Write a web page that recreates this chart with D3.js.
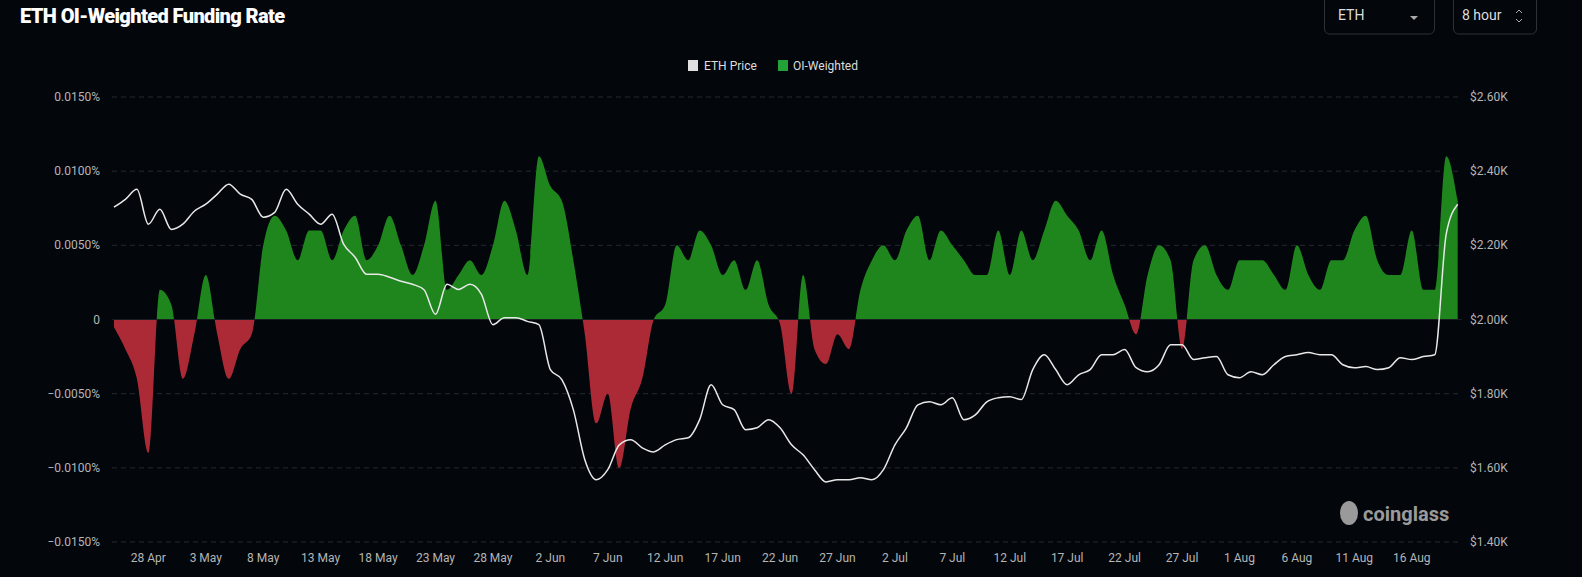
<!DOCTYPE html>
<html><head><meta charset="utf-8">
<script src="https://cdn.jsdelivr.net/npm/d3@7"></script>
<style>
body{margin:0;background:#03060b;font-family:Roboto,"Noto Sans",sans-serif;}
</style></head>
<body><svg id="chart" width="1582" height="577"></svg>
<script>
// daily values, 25 Apr -> 20 Aug 2023
const startDate = new Date(2023, 3, 25);
const fundingRate = [
  -0.0005,-0.002,-0.004,-0.009,0.002,0.001,-0.004,-0.001,0.003,-0.001,
  -0.004,-0.002,-0.001,0.005,0.007,0.006,0.004,0.006,0.006,0.004,
  0.006,0.007,0.004,0.005,0.007,0.005,0.003,0.005,0.008,0.002,
  0.003,0.004,0.003,0.005,0.008,0.006,0.003,0.011,0.009,0.008,
  0.004,-0.001,-0.007,-0.005,-0.010,-0.006,-0.004,0.0,0.001,0.005,
  0.004,0.006,0.005,0.003,0.004,0.002,0.004,0.001,-0.0003,-0.005,
  0.003,-0.002,-0.003,-0.001,-0.002,0.002,0.004,0.005,0.004,0.006,
  0.007,0.004,0.006,0.005,0.004,0.003,0.003,0.006,0.003,0.006,
  0.004,0.006,0.008,0.007,0.006,0.004,0.006,0.003,0.001,-0.001,
  0.003,0.005,0.004,-0.002,0.004,0.005,0.003,0.002,0.004,0.004,
  0.004,0.003,0.002,0.005,0.003,0.002,0.004,0.004,0.006,0.007,
  0.004,0.003,0.003,0.006,0.002,0.002,0.011,0.008
];
const ethPrice = [
  2303,2324,2351,2257,2297,2243,2257,2292,2311,2338,
  2365,2338,2324,2276,2289,2351,2311,2284,2257,2284,
  2203,2168,2122,2122,2114,2103,2095,2080,2014,2095,
  2081,2095,2068,1986,2005,2005,1995,1986,1865,1838,
  1757,1622,1568,1595,1662,1676,1654,1643,1662,1676,
  1681,1730,1824,1770,1757,1703,1708,1730,1708,1662,
  1635,1595,1562,1568,1568,1573,1568,1595,1662,1708,
  1770,1778,1770,1789,1730,1743,1778,1789,1792,1784,
  1865,1905,1865,1824,1851,1865,1905,1905,1919,1870,
  1859,1878,1932,1932,1892,1897,1900,1851,1843,1859,
  1851,1878,1900,1905,1911,1905,1905,1878,1870,1873,
  1865,1870,1897,1892,1900,1905,2230,2311
];
const leftTicks = [0.015,0.01,0.005,0,-0.005,-0.01,-0.015];
const rightTicks = [2600,2400,2200,2000,1800,1600,1400];
const xTickDates = ["2023-04-28","2023-05-03","2023-05-08","2023-05-13","2023-05-18","2023-05-23","2023-05-28","2023-06-02","2023-06-07","2023-06-12","2023-06-17","2023-06-22","2023-06-27","2023-07-02","2023-07-07","2023-07-12","2023-07-17","2023-07-22","2023-07-27","2023-08-01","2023-08-06","2023-08-11","2023-08-16"];

const data = fundingRate.map((f, i) => ({
  date: d3.timeDay.offset(startDate, i), funding: f, price: ethPrice[i]
}));

const svg = d3.select("#chart");
const plotLeft = 112, plotRight = 1462, plotTop = 97, plotBottom = 542;

const x = d3.scaleTime()
  .domain([new Date(2023, 3, 24, 20), new Date(2023, 7, 20, 9)])
  .range([plotLeft, plotRight]);
const yL = d3.scaleLinear().domain([-0.015, 0.015]).range([plotBottom, plotTop]);
const yR = d3.scaleLinear().domain([1400, 2600]).range([plotBottom, plotTop]);

// title + controls
svg.append("text").attr("x", 20).attr("y", 23).attr("fill", "#fff")
  .attr("font-size", 20).attr("font-weight", "900").style("letter-spacing", "-0.6px")
  .text("ETH OI-Weighted Funding Rate");
const ctrl = svg.append("g");
ctrl.append("rect").attr("x", 1324.5).attr("y", -6).attr("width", 110).attr("height", 40).attr("rx", 5)
  .attr("fill", "none").attr("stroke", "#2e3136");
ctrl.append("text").attr("x", 1338).attr("y", 20).attr("fill", "#ddd").attr("font-size", 14).text("ETH");
ctrl.append("path").attr("d", "M1410,16 l8,0 l-4,4 z").attr("fill", "#aaa");
ctrl.append("rect").attr("x", 1453.5).attr("y", -6).attr("width", 83).attr("height", 40).attr("rx", 5)
  .attr("fill", "none").attr("stroke", "#2e3136");
ctrl.append("text").attr("x", 1462).attr("y", 20).attr("fill", "#ddd").attr("font-size", 14).text("8 hour");
ctrl.append("path").attr("d", "M1516,13 l3,-3 l3,3 M1516,19 l3,3 l3,-3").attr("fill", "none").attr("stroke", "#aaa");

// legend
const lg = svg.append("g").attr("font-size", 12).attr("fill", "#ddd");
lg.append("rect").attr("x", 688).attr("y", 60).attr("width", 10).attr("height", 11).attr("fill", "#e0e0e0");
lg.append("text").attr("x", 704).attr("y", 70).text("ETH Price");
lg.append("rect").attr("x", 778).attr("y", 60).attr("width", 10).attr("height", 11).attr("fill", "#22a33a");
lg.append("text").attr("x", 793).attr("y", 70).text("OI-Weighted");

// grid
svg.append("g").selectAll("line").data(leftTicks.filter(d => d !== 0)).join("line")
  .attr("x1", plotLeft).attr("x2", plotRight).attr("y1", d => yL(d)).attr("y2", d => yL(d))
  .attr("stroke", "#262a30").attr("stroke-dasharray", "5,4");

// axes labels
svg.append("g").selectAll("text").data(leftTicks).join("text")
  .attr("x", 100).attr("y", d => yL(d) + 4).attr("text-anchor", "end")
  .attr("fill", "#b5b5b5").attr("font-size", 12)
  .text(d => d === 0 ? "0" : d3.format(".4f")(d) + "%");
svg.append("g").selectAll("text").data(rightTicks).join("text")
  .attr("x", 1470).attr("y", d => yR(d) + 4)
  .attr("fill", "#b5b5b5").attr("font-size", 12)
  .text(d => "$" + d3.format(".2f")(d / 1000) + "K");

// funding area split into positive / negative
const defs = svg.append("defs");
defs.append("clipPath").attr("id", "pos").append("rect")
  .attr("x", plotLeft).attr("y", 0).attr("width", plotRight - plotLeft).attr("height", yL(0));
defs.append("clipPath").attr("id", "neg").append("rect")
  .attr("x", plotLeft).attr("y", yL(0)).attr("width", plotRight - plotLeft).attr("height", plotBottom);
const area = d3.area().x(d => x(d.date)).y0(yL(0)).y1(d => yL(d.funding)).curve(d3.curveMonotoneX);
svg.append("path").datum(data).attr("d", area).attr("fill", "#1e861c").attr("clip-path", "url(#pos)");
svg.append("path").datum(data).attr("d", area).attr("fill", "#ac2a36").attr("clip-path", "url(#neg)");

// zero line + x labels
svg.append("line").attr("x1", plotLeft).attr("x2", plotRight).attr("y1", yL(0)).attr("y2", yL(0)).attr("stroke", "#1a1d22");
const xDates = xTickDates.map(s => d3.timeParse("%Y-%m-%d")(s));
svg.append("g").selectAll("text").data(xDates).join("text")
  .attr("x", d => x(d)).attr("y", 562).attr("text-anchor", "middle")
  .attr("fill", "#b5b5b5").attr("font-size", 12)
  .text(d => d3.timeFormat("%-d %b")(d));

// price line
const line = d3.line().x(d => x(d.date)).y(d => yR(d.price)).curve(d3.curveMonotoneX);
svg.append("path").datum(data).attr("d", line).attr("fill", "none")
  .attr("stroke", "#e8e8e8").attr("stroke-width", 1.5);

// watermark
const wm = svg.append("g").attr("fill", "#9a9a9a");
wm.append("ellipse").attr("cx", 1349).attr("cy", 513).attr("rx", 9).attr("ry", 12);
wm.append("text").attr("x", 1363).attr("y", 521).attr("font-size", 20).attr("font-weight", "bold").text("coinglass");
</script></body></html>
